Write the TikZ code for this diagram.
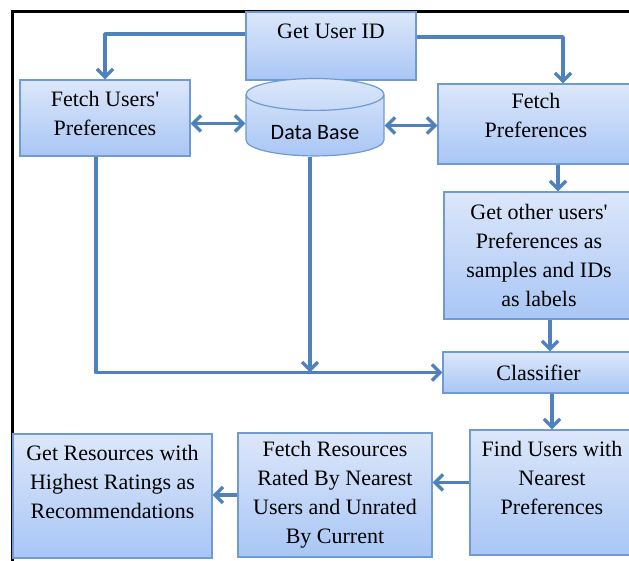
\documentclass[tikz,border=0pt]{standalone}
\usepackage{fontspec}
\setmainfont{Liberation Serif}
\newfontfamily\dbfont{Carlito}
\usetikzlibrary{shapes.geometric,arrows.meta}
\definecolor{linkblue}{HTML}{4F81BD}
\definecolor{edgeblue}{HTML}{6F9AD3}
\definecolor{boxtop}{HTML}{DCE7FA}
\definecolor{boxbot}{HTML}{A9C6F5}
\tikzset{
	box/.style={rectangle, draw=edgeblue, line width=0.6pt, top color=boxtop, bottom color=boxbot, align=center, inner sep=2pt, font=\fontsize{11}{14.5}\selectfont},
	link/.style={draw=linkblue, line width=1.7pt, line join=round, -{Straight Barb[length=4pt,width=8pt]}},
	both/.style={link, {Straight Barb[length=4pt,width=8pt]}-{Straight Barb[length=4pt,width=8pt]}}
}
\begin{document}
\begin{tikzpicture}[x=0.5pt, y=-0.5pt]

	\useasboundingbox (0,0) rectangle (629,561);
	\draw[black, line width=1.5pt] (13,561) -- (13,12) -- (629,12);

	\node[box, minimum width=85pt, minimum height=34pt] (getid) at (331,46) {Get User ID\\\mbox{}};
	\node[box, minimum width=85pt, minimum height=38pt] (usrpref) at (105,118) {Fetch Users\textquotesingle\\Preferences\\[-10pt]\mbox{}};
	\node[cylinder, shape border rotate=90, aspect=0.36, draw=edgeblue, line width=0.6pt, top color=boxtop, bottom color=boxbot, minimum width=69pt, minimum height=37.5pt, inner sep=0pt, text height=14.5pt, text depth=0pt, font=\dbfont\fontsize{11}{13}\selectfont] (db) at (315,125.5) {Data Base};
	\node[box, minimum width=98pt, minimum height=40pt] (fpref) at (536,124) {Fetch\\Preferences\\[-5.5pt]\mbox{}};
	\node[box, minimum width=95pt, minimum height=63.5pt] (other) at (539,255.5) {Get other users\textquotesingle\\Preferences as\\samples and IDs\\as labels};
	\node[box, minimum width=95.5pt, minimum height=20.5pt] (cls) at (538.5,372.5) {Classifier};
	\node[box, minimum width=82pt, minimum height=62.5pt] (near) at (552,492.5) {Find Users with\\Nearest\\Preferences\\\mbox{}};
	\node[box, minimum width=97pt, minimum height=62pt] (fres) at (335,495) {Fetch Resources\\Rated By Nearest\\Users and Unrated\\By Current};
	\node[box, minimum width=99.5pt, minimum height=62pt] (gres) at (112.5,496) {Get Resources with\\Highest Ratings as\\Recommendations\\\mbox{}};

	\draw[link] ([yshift=6pt]getid.west) -| (usrpref.north);
	\draw[link] ([yshift=4.5pt]getid.east) -| ([xshift=13.5pt]fpref.north);
	\draw[both] ([yshift=1pt]usrpref.east |- db.center) -- ([yshift=1pt]db.center -| db.west);
	\draw[both] (db.center -| db.east) -- (db.center -| fpref.west);
	\draw[link] ([xshift=11pt]fpref.south) -- ([xshift=11pt]fpref.south |- other.north);
	\draw[link] ([xshift=5.5pt]other.south) -- ([xshift=5.5pt]other.south |- cls.north);
	\draw[link] ([xshift=-4.5pt]usrpref.south) |- (cls.west);
	\draw[link] ([xshift=-2.5pt]db.south) -- ([xshift=-2.5pt]db.south |- cls.west);
	\draw[link] (cls.south -| near.north) -- (near.north);
	\draw[link] ([yshift=5pt]near.west) -- ([yshift=5pt]near.west -| fres.east);
	\draw[link] (fres.west) -- (fres.west -| gres.east);

\end{tikzpicture}
\end{document}
